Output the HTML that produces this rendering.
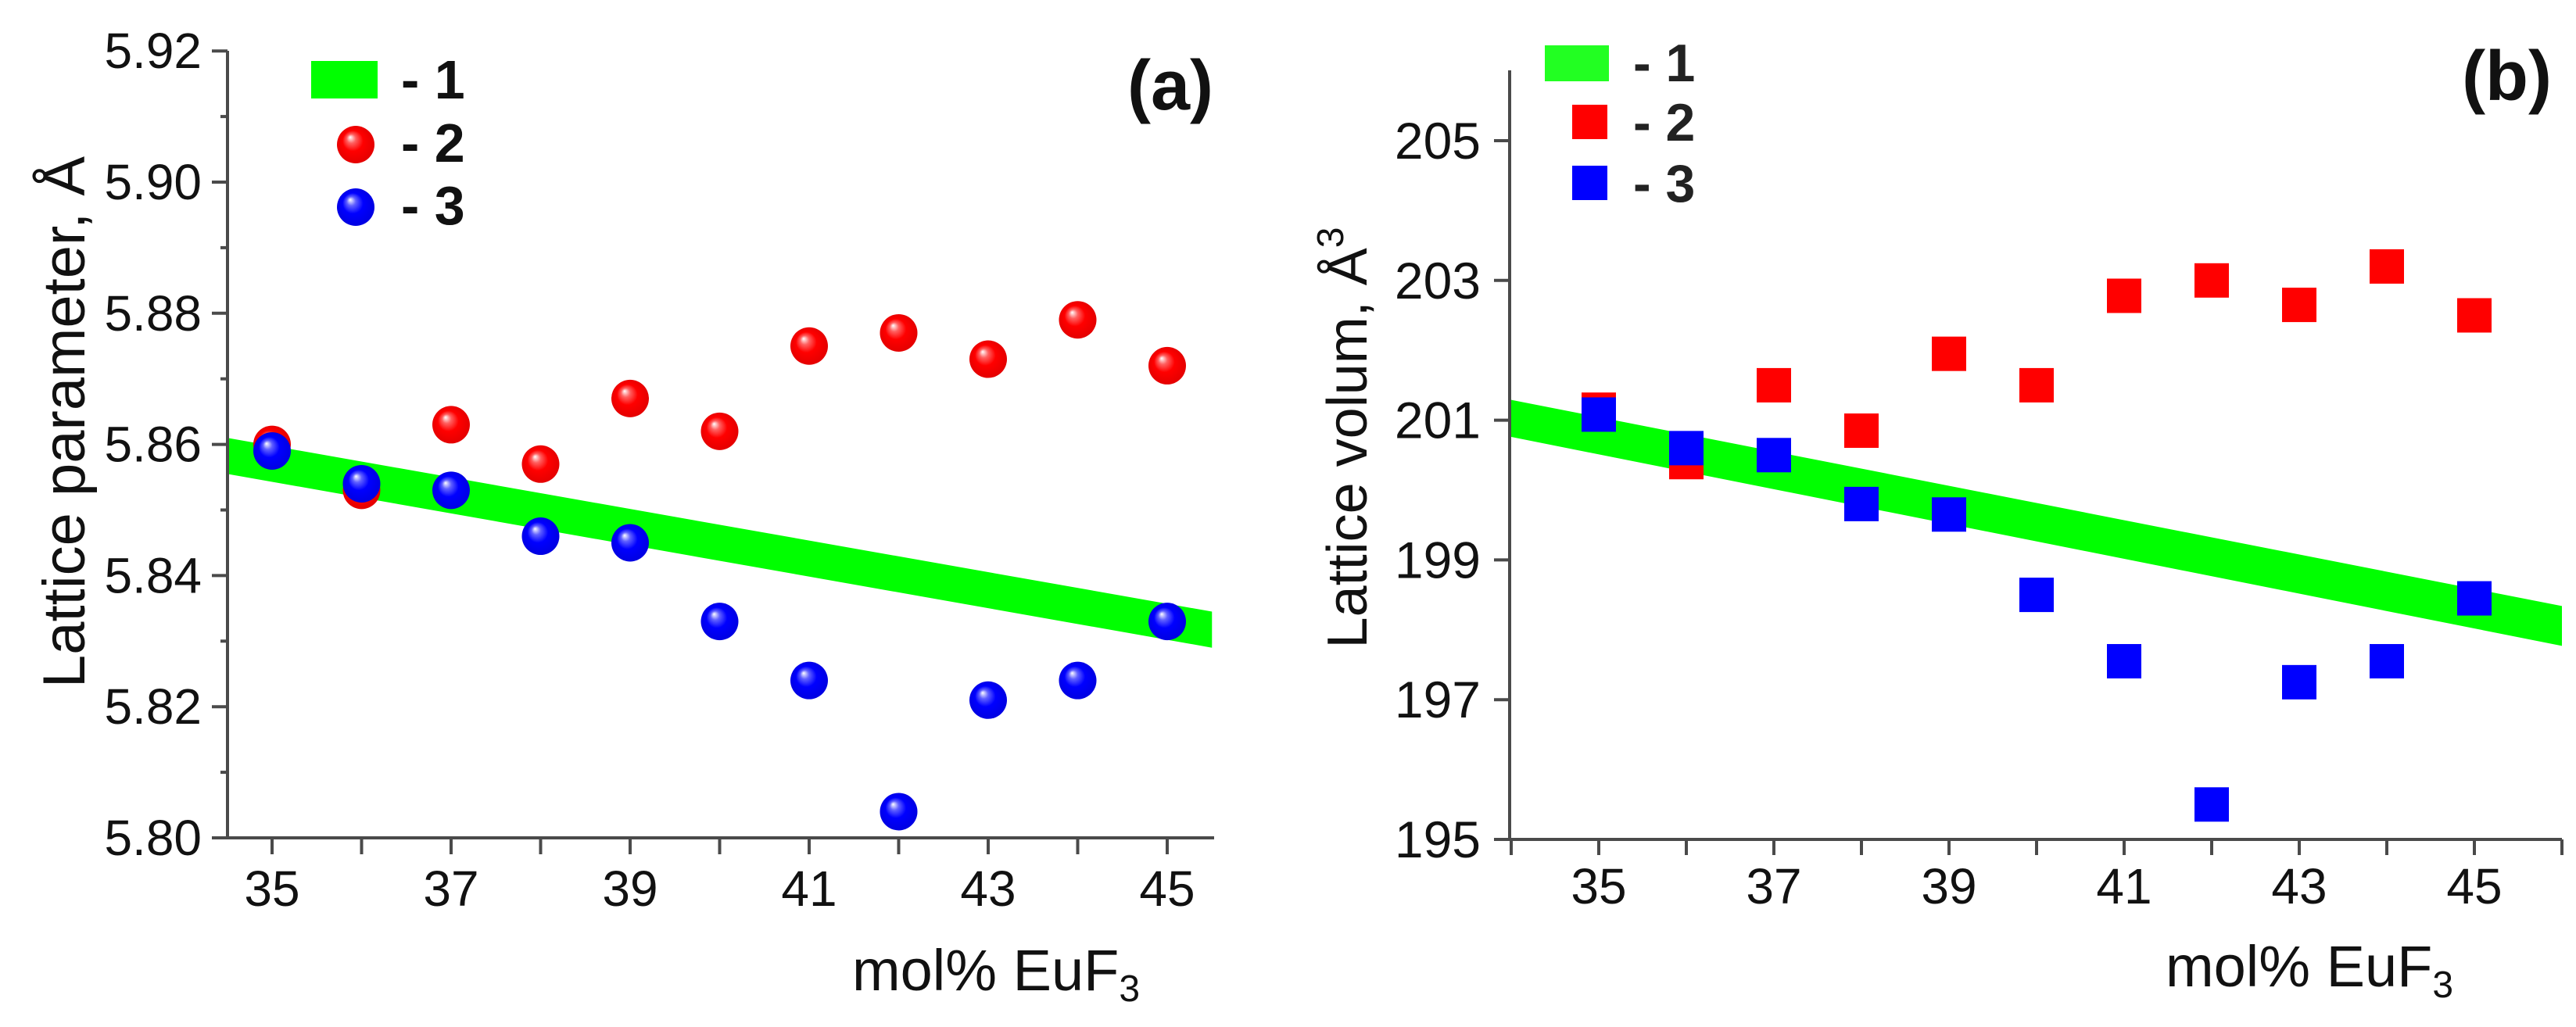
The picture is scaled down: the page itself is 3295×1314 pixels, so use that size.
<!DOCTYPE html>
<html><head><meta charset="utf-8"><style>
html,body{margin:0;padding:0;background:#fff;}
svg{display:block;font-family:"Liberation Sans",Arial,sans-serif;}
</style></head><body>
<svg id="fig" width="3295" height="1314" viewBox="0 0 3295 1314" xmlns="http://www.w3.org/2000/svg">
<defs>
<radialGradient id="gRed" cx="0.5" cy="0.5" r="0.55" fx="0.35" fy="0.3">
<stop offset="0" stop-color="#ffffff"/><stop offset="0.22" stop-color="#ff6060"/><stop offset="0.5" stop-color="#ff0000"/><stop offset="1" stop-color="#e00000"/>
</radialGradient>
<radialGradient id="gBlue" cx="0.5" cy="0.5" r="0.55" fx="0.35" fy="0.3">
<stop offset="0" stop-color="#ffffff"/><stop offset="0.22" stop-color="#6060ff"/><stop offset="0.5" stop-color="#0000ff"/><stop offset="1" stop-color="#0000dd"/>
</radialGradient>
</defs>
<g id="panelA"></g>
<g id="panelB"></g>
</svg>
<script>
// Panel (a) data
const catsA = [35,36,37,38,39,40,41,42,43,44,45];
const redA = [5.860,5.853,5.863,5.857,5.867,5.862,5.875,5.877,5.873,5.879,5.872];
const blueA = [5.859,5.854,5.853,5.846,5.845,5.833,5.824,5.804,5.821,5.824,5.833];
const bandAx = [34.5,45.5];
const bandAtop = [5.861,5.8345];
const bandAbot = [5.8555,5.829];
const yTicksA = ["5.80","5.82","5.84","5.86","5.88","5.90","5.92"];
const xTicksA = ["35","37","39","41","43","45"];
// Panel (b) data
const catsB = [35,36,37,38,39,40,41,42,43,44,45];
const redB = [201.15,200.4,201.5,200.85,201.95,201.5,202.78,203.0,202.65,203.2,202.5];
const blueB = [201.08,200.6,200.5,199.8,199.65,198.5,197.55,195.5,197.25,197.55,198.45];
const bandBx = [34,46];
const bandBtop = [201.29,198.34];
const bandBbot = [200.76,197.77];
const yTicksB = ["195","197","199","201","203","205"];
const xTicksB = ["35","37","39","41","43","45"];

const NS="http://www.w3.org/2000/svg";
function mk(parent,tag,attrs,text){const e=document.createElementNS(NS,tag);for(const k in attrs)e.setAttribute(k,attrs[k]);if(text!==undefined)e.textContent=text;parent.appendChild(e);return e;}

// ---------- Panel A ----------
(function(){
const g=document.getElementById('panelA');
const X0=291,X1=1553,Y0=1072,YT=65;
const sx=v=>348+(v-35)*114.5;
const sy=v=>Y0-(v-5.80)/0.02*167.8;
// band
const band=mk(g,'polygon',{points:[sx(bandAx[0])+','+sy(bandAtop[0]),sx(bandAx[1])+','+sy(bandAtop[1]),sx(bandAx[1])+','+sy(bandAbot[1]),sx(bandAx[0])+','+sy(bandAbot[0])].join(' '),fill:'#00ff00'});


// axes
const ax=mk(g,'path',{d:`M${X0},${YT} V${Y0} H${X1}`,stroke:'#4a4a4a','stroke-width':4,fill:'none'});


// y ticks
for(let i=0;i<=12;i++){const v=5.80+i*0.01;const y=sy(v);const major=i%2===0;
 mk(g,'line',{x1:X0-(major?20:9),x2:X0,y1:y,y2:y,stroke:'#4a4a4a','stroke-width':4});}
yTicksA.forEach(t=>{const e=mk(g,'text',{x:258,y:sy(parseFloat(t))+22,'text-anchor':'end','font-size':64,fill:'#111'},t);
 
 });
// x ticks
for(let v=35;v<=45;v++){mk(g,'line',{x1:sx(v),x2:sx(v),y1:Y0,y2:Y0+21,stroke:'#4a4a4a','stroke-width':4});}
xTicksA.forEach(t=>{const e=mk(g,'text',{x:sx(+t),y:1159,'text-anchor':'middle','font-size':64,fill:'#111'},t);
 
 });
// points
catsA.forEach((c,i)=>{const e=mk(g,'ellipse',{cx:sx(c),cy:sy(redA[i]),rx:24,ry:24,fill:'url(#gRed)'});
 
 });
catsA.forEach((c,i)=>{const e=mk(g,'ellipse',{cx:sx(c),cy:sy(blueA[i]),rx:24,ry:24,fill:'url(#gBlue)'});
 
 });
})();

// ---------- Panel B ----------
(function(){
const g=document.getElementById('panelB');
const X0=1931,X1=3277,Y0=1074,YT=90;
const sx=v=>2045+(v-35)*112;
const sy=v=>Y0-(v-195)/2*178.8;
const band=mk(g,'polygon',{points:[sx(bandBx[0])+','+sy(bandBtop[0]),sx(bandBx[1])+','+sy(bandBtop[1]),sx(bandBx[1])+','+sy(bandBbot[1]),sx(bandBx[0])+','+sy(bandBbot[0])].join(' '),fill:'#00ff00'});


const ax=mk(g,'path',{d:`M${X0},${YT} V${Y0} H${X1}`,stroke:'#4a4a4a','stroke-width':4,fill:'none'});


yTicksB.forEach(t=>{const y=sy(+t);mk(g,'line',{x1:X0-20,x2:X0,y1:y,y2:y,stroke:'#4a4a4a','stroke-width':4});
 const e=mk(g,'text',{x:1894,y:y+23,'text-anchor':'end','font-size':66,fill:'#111'},t);
 
 });
for(let v=34;v<=46;v++){mk(g,'line',{x1:sx(v),x2:sx(v),y1:Y0,y2:Y0+20,stroke:'#4a4a4a','stroke-width':4});}
xTicksB.forEach(t=>{const e=mk(g,'text',{x:sx(+t),y:1156,'text-anchor':'middle','font-size':64,fill:'#111'},t);
 
 });
catsB.forEach((c,i)=>{const e=mk(g,'rect',{x:sx(c)-22,y:sy(redB[i])-22,width:44,height:44,fill:'#ff0000'});
 
 });
catsB.forEach((c,i)=>{const e=mk(g,'rect',{x:sx(c)-22,y:sy(blueB[i])-22,width:44,height:44,fill:'#0000ff'});
 
 });
})();
</script>
<svg style="position:absolute;left:0;top:0" width="3295" height="1314" viewBox="0 0 3295 1314" xmlns="http://www.w3.org/2000/svg" font-family="Liberation Sans, Arial, sans-serif">
<!-- Panel a legend -->
<g>
<rect x="398" y="78" width="85" height="48" fill="#00ff00"/>
<text x="513" y="126" font-size="70" font-weight="bold" fill="#111">- 1</text>
<circle cx="455" cy="185" r="24" fill="url(#gRed)"/>
<text x="513" y="207" font-size="70" font-weight="bold" fill="#111">- 2</text>
<circle cx="455" cy="265" r="24" fill="url(#gBlue)"/>
<text x="513" y="287" font-size="70" font-weight="bold" fill="#111">- 3</text>
</g>
<text x="1552" y="140" text-anchor="end" font-size="90" font-weight="bold" fill="#111">(a)</text>
<text transform="translate(108,540) rotate(-90)" text-anchor="middle" font-size="76" fill="#111">Lattice parameter, Å</text>
<text x="1090" y="1267" font-size="74" fill="#111">mol% EuF<tspan font-size="48" dy="14">3</tspan></text>
<!-- Panel b legend -->
<g>
<rect x="1976" y="58" width="82" height="46" fill="#22ff22"/>
<text x="2089" y="104" font-size="68" font-weight="bold" fill="#222">- 1</text>
<rect x="2011" y="134" width="45" height="44" fill="#ff0000"/>
<text x="2089" y="180" font-size="68" font-weight="bold" fill="#222">- 2</text>
<rect x="2011" y="212" width="45" height="44" fill="#0000ff"/>
<text x="2089" y="258" font-size="68" font-weight="bold" fill="#222">- 3</text>
</g>
<text x="3264" y="128" text-anchor="end" font-size="90" font-weight="bold" fill="#111">(b)</text>
<text transform="translate(1748,560) rotate(-90)" text-anchor="middle" font-size="72" fill="#111">Lattice volum, Å<tspan font-size="48" dy="-30">3</tspan></text>
<text x="2770" y="1262" font-size="74" fill="#111">mol% EuF<tspan font-size="48" dy="14">3</tspan></text>
</svg>
</body></html>
